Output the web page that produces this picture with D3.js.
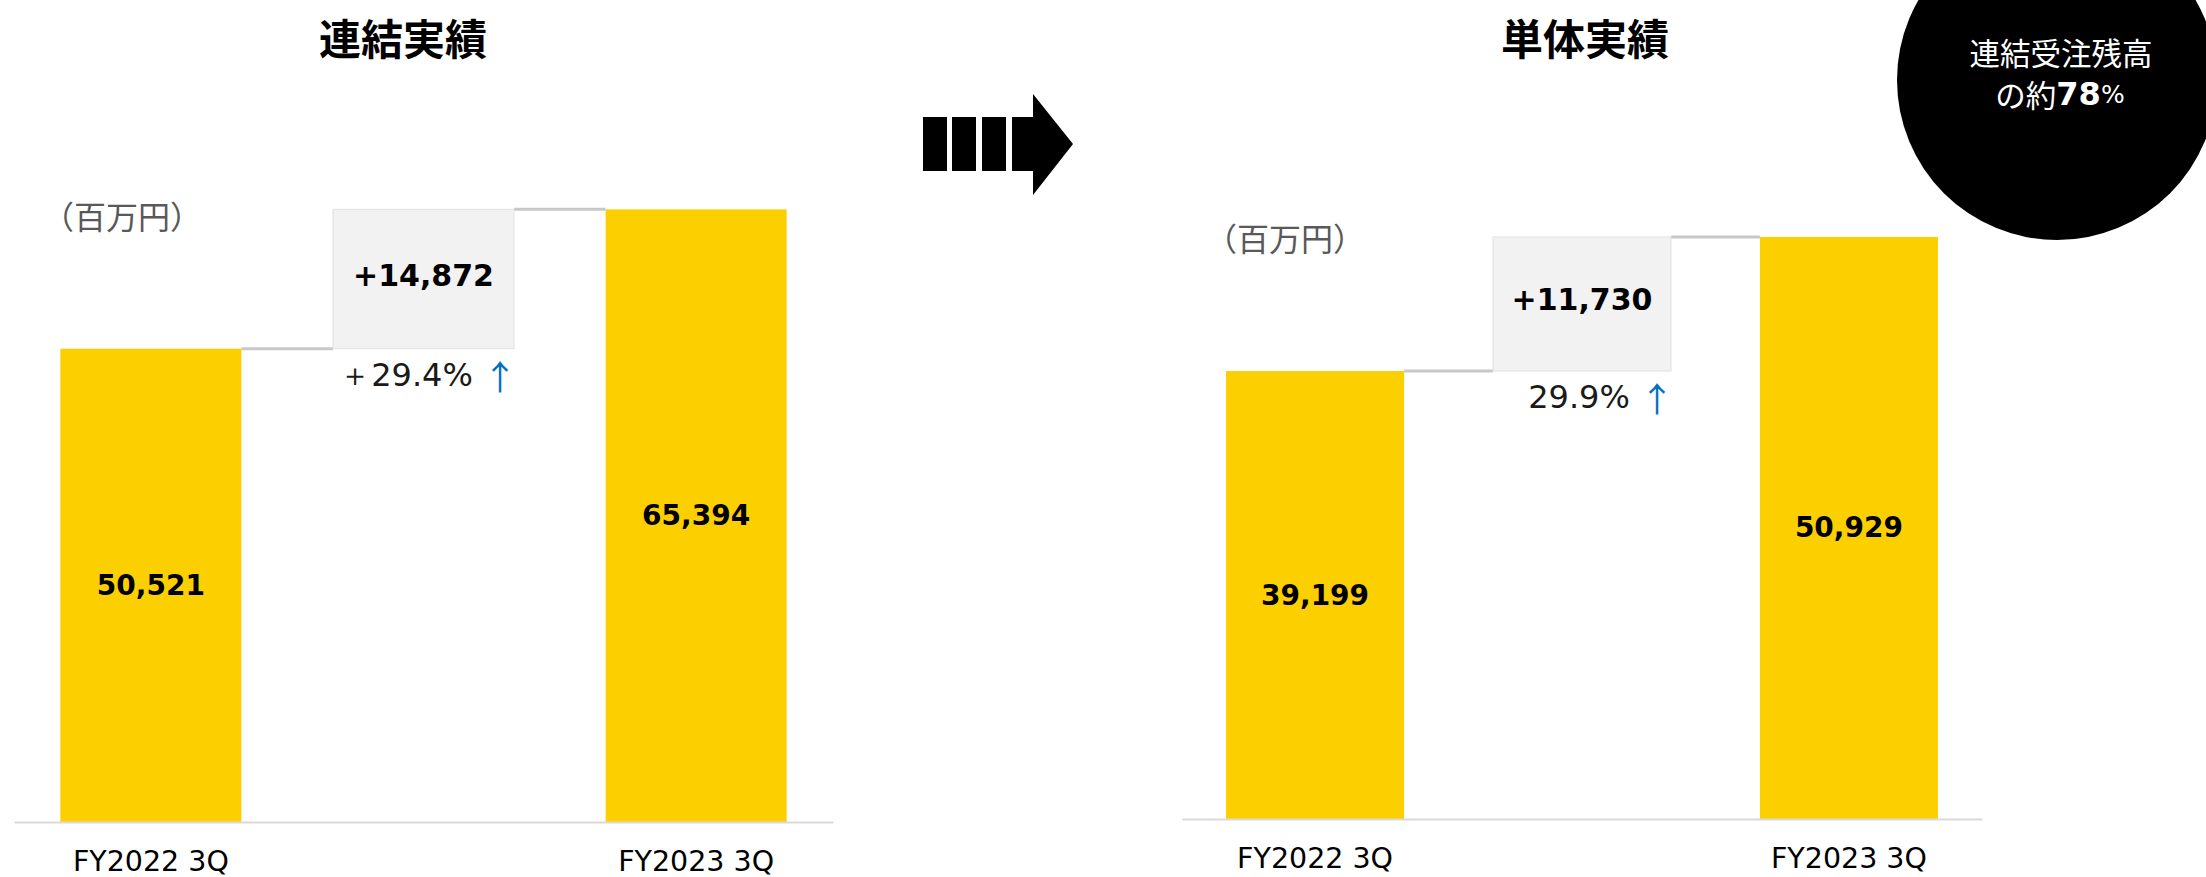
<!DOCTYPE html>
<html>
<head>
<meta charset="utf-8">
<script src="https://cdn.jsdelivr.net/npm/d3@7"></script>
<style>
  body { margin: 0; background: #fff; }
  svg { display: block; }
</style>
</head>
<body>
<script>
// values (百万円)
const categories = ["FY2022 3Q", "FY2023 3Q"];
const consolidatedValues = [50521, 65394];
const standaloneValues = [39199, 50929];
const deltaLabels = ["+14,872", "+11,730"];
const growthLabels = ["＋29.4%", "29.9%"];
const panelTitles = ["連結実績", "単体実績"];
const unitLabel = "（百万円）";
const badgeLines = ["連結受注残高", "の約", "78", "%"];

const W = 2206, H = 877;
const YELLOW = "#fcd000";
const LATIN = "'DejaVu Sans', Verdana, sans-serif";
const CJK = "'Noto Sans CJK JP', 'Noto Sans', sans-serif";

const svg = d3.select("body").append("svg")
  .attr("width", W)
  .attr("height", H);

const fmt = d3.format(",");

function drawPanel(cfg) {
  const { values, title, delta, growth } = cfg;
  const g = svg.append("g").attr("class", "panel");

  const x = d3.scaleBand()
    .domain([categories[0], "delta", categories[1]])
    .range([cfg.x0, cfg.x1])
    .paddingInner(cfg.padIn)
    .paddingOuter(cfg.padOut);
  const bw = x.bandwidth();

  const y = d3.scaleLinear()
    .domain([0, cfg.max])
    .range([cfg.base, cfg.top]);

  // title + unit
  g.append("text")
    .attr("x", cfg.titleX).attr("y", 36)
    .attr("text-anchor", "middle")
    .attr("dominant-baseline", "central")
    .style("font-family", CJK).style("font-weight", 700)
    .style("font-size", "42px").attr("fill", "#000")
    .text(title);

  g.append("text")
    .attr("x", cfg.unitX).attr("y", cfg.unitY)
    .attr("dominant-baseline", "central")
    .style("font-family", CJK).style("font-size", "32px")
    .attr("fill", "#595959")
    .text(unitLabel);

  // connectors (drawn first, bars sit on top)
  const xd = x("delta");
  g.append("line")
    .attr("x1", x(categories[0]) + bw).attr("x2", xd)
    .attr("y1", y(values[0])).attr("y2", y(values[0]))
    .attr("stroke", "#c8c8c8").attr("stroke-width", 3);
  g.append("line")
    .attr("x1", xd + bw).attr("x2", x(categories[1]))
    .attr("y1", y(values[1])).attr("y2", y(values[1]))
    .attr("stroke", "#c8c8c8").attr("stroke-width", 3);

  // delta box
  g.append("rect")
    .attr("x", xd).attr("width", bw)
    .attr("y", y(values[1]))
    .attr("height", y(values[0]) - y(values[1]))
    .attr("fill", "#f2f2f2")
    .attr("stroke", "#e0e0e0").attr("stroke-width", 1);

  g.append("text")
    .attr("x", xd + bw / 2)
    .attr("y", (y(values[0]) + y(values[1])) / 2 - 4)
    .attr("text-anchor", "middle")
    .attr("dominant-baseline", "central")
    .style("font-family", LATIN).style("font-weight", 700)
    .style("font-size", "30px").attr("fill", "#000")
    .text(delta);

  const pct = g.append("text")
    .attr("x", xd + bw + 3)
    .attr("y", y(values[0]) + 26)
    .attr("text-anchor", "end")
    .attr("dominant-baseline", "central")
    .style("font-family", LATIN).style("font-size", "32px")
    .attr("fill", "#1a1a1a");
  pct.append("tspan").text(growth + " ");
  pct.append("tspan").attr("fill", "#0070c0")
    .style("font-family", CJK).style("font-size", "34px").text("↑");

  // bars
  const data = categories.map((c, i) => ({ c, v: values[i] }));
  g.selectAll("rect.bar")
    .data(data)
    .join("rect")
    .attr("class", "bar")
    .attr("x", d => x(d.c))
    .attr("width", bw)
    .attr("y", d => y(d.v))
    .attr("height", d => y(0) - y(d.v))
    .attr("fill", YELLOW);

  g.selectAll("text.val")
    .data(data)
    .join("text")
    .attr("class", "val")
    .attr("x", d => x(d.c) + bw / 2)
    .attr("y", d => (y(d.v) + y(0)) / 2)
    .attr("text-anchor", "middle")
    .attr("dominant-baseline", "central")
    .style("font-family", LATIN).style("font-weight", 700)
    .style("font-size", "28px").attr("fill", "#000")
    .text(d => fmt(d.v));

  // category axis
  const axis = g.append("g")
    .attr("transform", `translate(0,${cfg.base})`)
    .call(d3.axisBottom(x).tickValues(categories).tickSize(0).tickSizeOuter(0));
  axis.select(".domain").attr("stroke", "#d9d9d9").attr("stroke-width", 2);
  axis.selectAll(".tick text")
    .attr("y", 49).attr("dy", 0)
    .style("font-family", LATIN).style("font-size", "28.5px")
    .attr("fill", "#000");
}

drawPanel({
  values: consolidatedValues, title: panelTitles[0],
  delta: deltaLabels[0], growth: growthLabels[0],
  x0: 14, x1: 833, padIn: 0.336, padOut: 0.17,
  base: 822, top: 166.2, max: 70000,
  titleX: 403, unitX: 42, unitY: 215
});

drawPanel({
  values: standaloneValues, title: panelTitles[1],
  delta: deltaLabels[1], growth: growthLabels[1],
  x0: 1182, x1: 1982, padIn: 0.333, padOut: 0.165,
  base: 819, top: 133.3, max: 60000,
  titleX: 1585, unitX: 1205, unitY: 237
});

// block arrow between panels
const arrow = svg.append("g").attr("fill", "#000");
[[923, 947], [952, 976], [982, 1006]].forEach(([a, b]) => {
  arrow.append("rect").attr("x", a).attr("y", 117)
    .attr("width", b - a).attr("height", 54);
});
arrow.append("path")
  .attr("d", "M1012,117 L1033,117 L1033,94 L1073,144 L1033,195 L1033,171 L1012,171 Z");

// black badge top right
const badge = svg.append("g");
badge.append("circle")
  .attr("cx", 2057).attr("cy", 80).attr("r", 160)
  .attr("fill", "#000");
badge.append("text")
  .attr("x", 2061).attr("y", 52)
  .attr("text-anchor", "middle").attr("dominant-baseline", "central")
  .style("font-family", CJK).style("font-size", "30.5px")
  .attr("fill", "#fff")
  .text(badgeLines[0]);
const b2 = badge.append("text")
  .attr("x", 2060).attr("y", 94)
  .attr("text-anchor", "middle").attr("dominant-baseline", "central")
  .style("font-family", CJK).style("font-size", "30.5px")
  .attr("fill", "#fff");
b2.append("tspan").text(badgeLines[1]);
b2.append("tspan").style("font-family", LATIN).style("font-weight", 700)
  .style("font-size", "32px").text(badgeLines[2]);
b2.append("tspan").style("font-family", LATIN).style("font-size", "25px")
  .text(badgeLines[3]);
</script>
</body>
</html>
